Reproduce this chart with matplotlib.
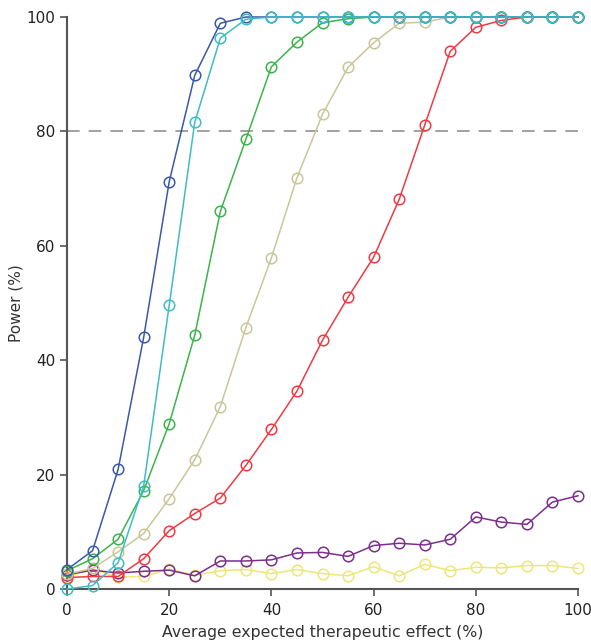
import matplotlib
matplotlib.use("Agg")
import matplotlib.pyplot as plt

effect = [0, 5, 10, 15, 20, 25, 30, 35, 40, 45, 50, 55, 60, 65, 70, 75, 80, 85, 90, 95, 100]

blue = [3.4, 6.7, 20.9, 44.0, 71.2, 89.8, 98.9, 100, 100, 100, 100, 100, 100, 100, 100, 100, 100, 100, 100, 100, 100]
cyan = [0.0, 0.6, 4.6, 18.0, 49.6, 81.6, 96.3, 99.6, 100, 100, 100, 100, 100, 100, 100, 100, 100, 100, 100, 100, 100]
green = [3.2, 5.3, 8.7, 17.2, 28.9, 44.4, 66.0, 78.6, 91.3, 95.6, 99.0, 99.7, 100, 100, 100, 100, 100, 100, 100, 100, 100]
khaki = [2.6, 3.6, 6.5, 9.7, 15.8, 22.6, 31.9, 45.7, 57.9, 71.9, 83.0, 91.2, 95.5, 98.9, 99.1, 100, 100, 100, 100, 100, 100]
red = [2.0, 2.2, 2.2, 5.3, 10.2, 13.2, 15.9, 21.6, 27.9, 34.6, 43.5, 51.0, 58.0, 68.1, 81.1, 94.0, 98.2, 99.4, 100, 100, 100]
purple = [2.5, 3.3, 2.8, 3.1, 3.3, 2.3, 4.9, 4.9, 5.1, 6.3, 6.4, 5.7, 7.6, 8.0, 7.7, 8.7, 12.6, 11.7, 11.3, 15.2, 16.3]
yellow = [2.1, 3.5, 2.1, 2.2, 3.5, 2.4, 3.2, 3.4, 2.7, 3.4, 2.7, 2.3, 3.9, 2.3, 4.3, 3.2, 3.8, 3.7, 4.1, 4.1, 3.6]

series = [
    (yellow, "#ece77a"),
    (purple, "#7b2f8e"),
    (red, "#ee3b43"),
    (khaki, "#c9c79a"),
    (green, "#3bb54b"),
    (blue, "#3b59a9"),
    (cyan, "#3dbec6"),
]

x_ticks = [0, 20, 40, 60, 80, 100]
y_ticks = [0, 20, 40, 60, 80, 100]

plt.rcParams['font.family'] = ['DejaVu Sans']

fig = plt.figure(figsize=(5.91, 6.41), dpi=100)
ax = fig.add_axes([0.1134, 0.0811, 0.978 - 0.1134, 0.9735 - 0.0811])

ax.axhline(80, color="#9a9a9a", lw=1.3, dashes=(7, 5), zorder=1)

for vals, col in series:
    ax.plot(effect, vals, color=col, lw=1.1, marker='o', ms=7.6,
            mfc='none', mec=col, mew=1.1, clip_on=False, zorder=3)

ax.set_xlim(0, 100)
ax.set_ylim(0, 100)
ax.set_xticks(x_ticks)
ax.set_yticks(y_ticks)
for s in ['top', 'right']:
    ax.spines[s].set_visible(False)
for s in ['left', 'bottom']:
    ax.spines[s].set_color('#555555')
    ax.spines[s].set_linewidth(1.5)
ax.tick_params(axis='both', colors='#555555', length=5, width=1.2,
               labelsize=11, labelcolor='#222222')
ax.tick_params(axis='x', pad=5)
ax.set_xlabel('Average expected therapeutic effect (%)', fontsize=11.3, color='#333333', labelpad=5)
ax.set_ylabel('Power (%)', fontsize=11, color='#333333', labelpad=2)

fig.savefig('out.png', dpi=100)
